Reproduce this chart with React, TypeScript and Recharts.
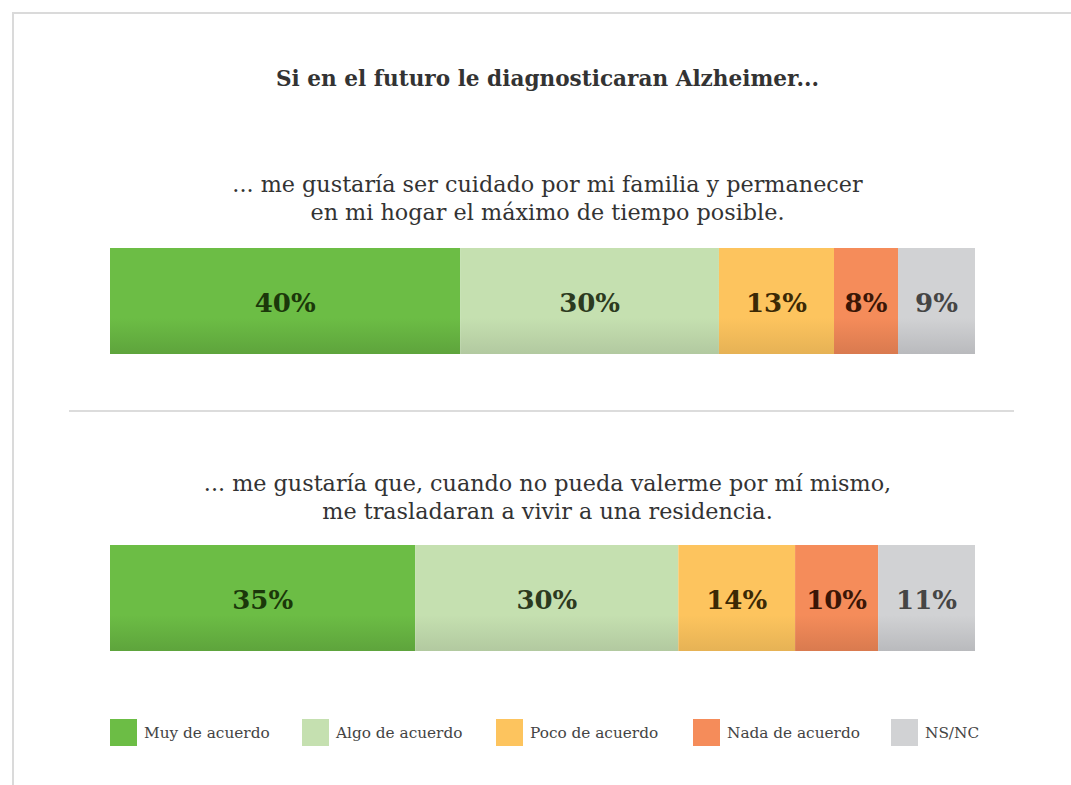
import { BarChart, Bar, XAxis, YAxis, LabelList } from 'recharts'

// categories / series
const categories = ['Muy de acuerdo', 'Algo de acuerdo', 'Poco de acuerdo', 'Nada de acuerdo', 'NS/NC']
const keys = ['muy', 'algo', 'poco', 'nada', 'nsnc']
const colors = ['#6cbd45', '#c5e0b0', '#fdc45e', '#f58c5a', '#d1d2d4']
const bottomColors = ['#5ea43c', '#b2c9a0', '#e6b255', '#d97a4f', '#b9babd']
const labelColors = ['#1b380a', '#2c3a20', '#3b2905', '#3a1606', '#454545']

// question 1
const q1Values = [40.5, 29.9, 13.3, 7.4, 8.9]
const q1Labels = ['40%', '30%', '13%', '8%', '9%']
// question 2
const q2Values = [35.3, 30.4, 13.5, 9.6, 11.2]
const q2Labels = ['35%', '30%', '14%', '10%', '11%']

const serif = '"DejaVu Serif", serif'

function StackBar({ values, labels, id }: { values: number[]; labels: string[]; id: string }) {
  const row: Record<string, number | string> = { name: id }
  keys.forEach((k, i) => { row[k] = values[i] })

  return (
    <BarChart
      width={865}
      height={106}
      layout="vertical"
      data={[row]}
      margin={{ top: 0, right: 0, left: 0, bottom: 0 }}
      barCategoryGap={0}
    >
      <defs>
        {colors.map((c, i) => (
          <linearGradient key={i} id={`${id}-g${i}`} x1="0" y1="0" x2="0" y2="1">
            <stop offset="0" stopColor={c} />
            <stop offset="0.66" stopColor={c} />
            <stop offset="1" stopColor={bottomColors[i]} />
          </linearGradient>
        ))}
      </defs>
      <XAxis type="number" domain={[0, 100]} hide />
      <YAxis type="category" dataKey="name" hide />
      {keys.map((k, i) => (
        <Bar key={k} dataKey={k} stackId="a" fill={`url(#${id}-g${i})`} isAnimationActive={false}>
          <LabelList
            dataKey={k}
            position="center"
            formatter={() => labels[i]}
            dy={2}
            style={{ fontFamily: serif, fontWeight: 700, fontSize: 26, fill: labelColors[i] }}
          />
        </Bar>
      ))}
    </BarChart>
  )
}

const subStyle: React.CSSProperties = {
  position: 'absolute', left: 0, width: 1095, textAlign: 'center',
  fontFamily: serif, fontSize: 22.3, lineHeight: '28px', color: '#333',
}

export default function App() {
  return (
    <div style={{ position: 'absolute', left: 0, top: 0, width: 1071, height: 785, overflow: 'hidden', background: '#fff' }}>
      <div style={{ position: 'absolute', left: 12, top: 12, width: 1070, height: 790, borderTop: '2px solid #dadada', borderLeft: '2px solid #dadada' }} />
      <div style={{ position: 'absolute', left: 0, width: 1095, top: 65, textAlign: 'center', fontFamily: serif, fontWeight: 700, fontSize: 21.6, lineHeight: '28px', color: '#333' }}>
        Si en el futuro le diagnosticaran Alzheimer...
      </div>
      <div style={{ ...subStyle, top: 170 }}>
        ... me gustaría ser cuidado por mi familia y permanecer<br />en mi hogar el máximo de tiempo posible.
      </div>
      <div style={{ position: 'absolute', left: 110, top: 248 }}>
        <StackBar values={q1Values} labels={q1Labels} id="q1" />
      </div>
      <div style={{ position: 'absolute', left: 69, top: 410, width: 945, height: 2, background: '#dcdcdc' }} />
      <div style={{ ...subStyle, top: 469 }}>
        ... me gustaría que, cuando no pueda valerme por mí mismo,<br />me trasladaran a vivir a una residencia.
      </div>
      <div style={{ position: 'absolute', left: 110, top: 545 }}>
        <StackBar values={q2Values} labels={q2Labels} id="q2" />
      </div>
      {categories.map((c, i) => (
        <div key={c} style={{ position: 'absolute', left: [110, 302, 496, 693, 891][i], top: 719, display: 'flex', alignItems: 'center' }}>
          <div style={{ width: 27, height: 27, background: colors[i] }} />
          <span style={{ marginLeft: 7, fontFamily: serif, fontSize: 15.3, color: '#444' }}>{c}</span>
        </div>
      ))}
    </div>
  )
}
